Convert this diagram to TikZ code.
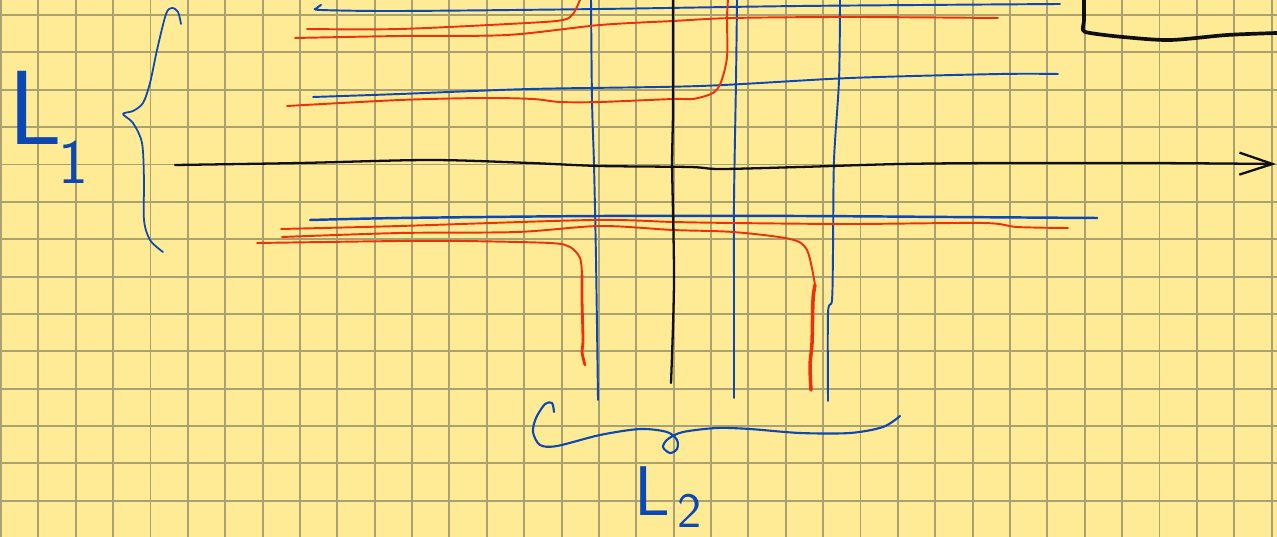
\documentclass[tikz,border=0pt]{standalone}
\usetikzlibrary{arrows.meta}
\usepackage{xcolor}
\definecolor{paperyellow}{RGB}{255,234,150}
\definecolor{gridolive}{RGB}{170,161,112}
\definecolor{penblue}{RGB}{12,72,180}
\definecolor{penred}{RGB}{236,50,12}
\definecolor{penblack}{RGB}{15,15,15}

\begin{document}
\begin{tikzpicture}[
  x=0.01cm, y=-0.01cm,
  gridline/.style={draw=gridolive, line width=0.55pt},
  bluepen/.style={draw=penblue, line width=0.55pt, line cap=round, line join=round},
  redpen/.style={draw=penred, line width=0.55pt, line cap=round, line join=round},
  blackpen/.style={draw=penblack, line width=0.65pt, line cap=round, line join=round},
  lenlabel/.style={text=penblue, inner sep=0pt, anchor=base west, font=\sffamily}
]
\fill[paperyellow] (0,0) rectangle (1277,537);
\useasboundingbox (0,0) rectangle (1277,537);
\foreach \k in {0,...,34} \draw[gridline] ({1+37.37*\k},0) -- ({1+37.37*\k},537);
\foreach \k in {0,...,13} \draw[gridline] (0,{15+37.37*\k}) -- (1277,{15+37.37*\k});

\draw[bluepen] plot[smooth, tension=0.5] coordinates {(321,5) (317,8) (321,10) (400,11) (600,9) (800,6) (1060,4)};
\draw[bluepen] plot[smooth, tension=0.5] coordinates {(313,97) (400,94) (530,89) (700,86) (850,78) (1000,74) (1058,74)};
\draw[bluepen, line width=0.7pt] plot[smooth, tension=0.5] coordinates {(310,220) (400,218) (600,216) (800,216) (950,217) (1097,218)};

\draw[bluepen] plot[smooth, tension=0.5] coordinates {(591,0) (592,100) (594,165) (596,260) (598,400)};
\draw[bluepen] plot[smooth, tension=0.5] coordinates {(737,0) (736,80) (734,200) (734,300) (734,398)};
\draw[bluepen] plot[smooth, tension=0.5] coordinates {(840,0) (839,80) (834,160) (833,250) (832,300) (828,313) (828,401)};

\draw[redpen] plot[smooth, tension=0.5] coordinates {(307,29) (400,29) (527,23) (563,20) (573,14) (580,0)};
\draw[redpen] plot[smooth, tension=0.5] coordinates {(295,38) (400,36) (507,35) (600,25) (673,21) (733,18) (850,17) (998,18)};
\draw[redpen] plot[smooth, tension=0.5] coordinates {(287,106) (400,100) (483,98) (533,99) (560,102) (600,102) (673,99) (693,99) (713,93) (721,82) (727,57) (727,17) (728,0)};

\draw[redpen] plot[smooth, tension=0.5] coordinates {(281,229) (400,226) (593,220) (673,222) (733,223) (850,224) (983,223) (1017,227) (1068,228)};
\draw[redpen] plot[smooth, tension=0.5] coordinates {(282,237) (400,233) (517,232) (600,226) (673,230) (733,232) (790,239) (807,250) (815,285)};
\draw[redpen, line width=1pt] plot[smooth, tension=0.5] coordinates {(815,285) (813,300) (812,343) (810,365) (811,390)};
\draw[redpen] plot[smooth, tension=0.5] coordinates {(257,243) (400,241) (463,241) (550,243) (570,247) (580,258) (582,275)};
\draw[redpen, line width=0.8pt] plot[smooth, tension=0.5] coordinates {(582,275) (582,300) (583,340) (582,352) (585,365)};

\draw[blackpen] plot[smooth, tension=0.5] coordinates {(673,0) (673,115) (672,160) (674,280) (671,383)};
\draw[blackpen, -{Straight Barb[length=3.3mm, width=2.2mm]}] plot[smooth, tension=0.5] coordinates {(175,165) (300,163) (430,160) (530,163) (600,166) (690,167) (720,169) (800,167) (900,164) (1000,163) (1150,163) (1276,164)};
\draw[blackpen, line width=1.05pt] plot[smooth, tension=0.5] coordinates {(1084,0) (1084,20) (1083,30) (1090,33) (1123,37) (1170,40) (1227,35) (1277,33)};

\draw[bluepen, line width=0.5pt] plot[smooth, tension=0.5] coordinates {(181,24) (178,12) (172,8) (166,14) (157,50) (150,83) (143,103) (133,111) (123,114) (133,123) (142,143) (144,180) (144,220) (150,240) (163,252)};
\draw[bluepen, line width=0.6pt] plot[smooth, tension=0.5] coordinates {(554,412) (552,403) (545,404) (536,418) (533,432) (540,445) (557,446) (600,435) (640,429) (667,432) (677,440) (677,449) (670,453) (663,447) (668,439) (683,432) (717,428) (750,429) (800,433) (850,433) (883,427) (900,416)};

\node[lenlabel] (lone) at (8,145) {\fontsize{30}{30}\selectfont L\kern-1pt\raisebox{-0.38cm}{\fontsize{18}{18}\selectfont 1}};
\node[lenlabel] (ltwo) at (634,515) {\fontsize{20}{20}\selectfont L\kern2pt\raisebox{-0.12cm}{\fontsize{14}{14}\selectfont 2}};
\end{tikzpicture}
\end{document}
